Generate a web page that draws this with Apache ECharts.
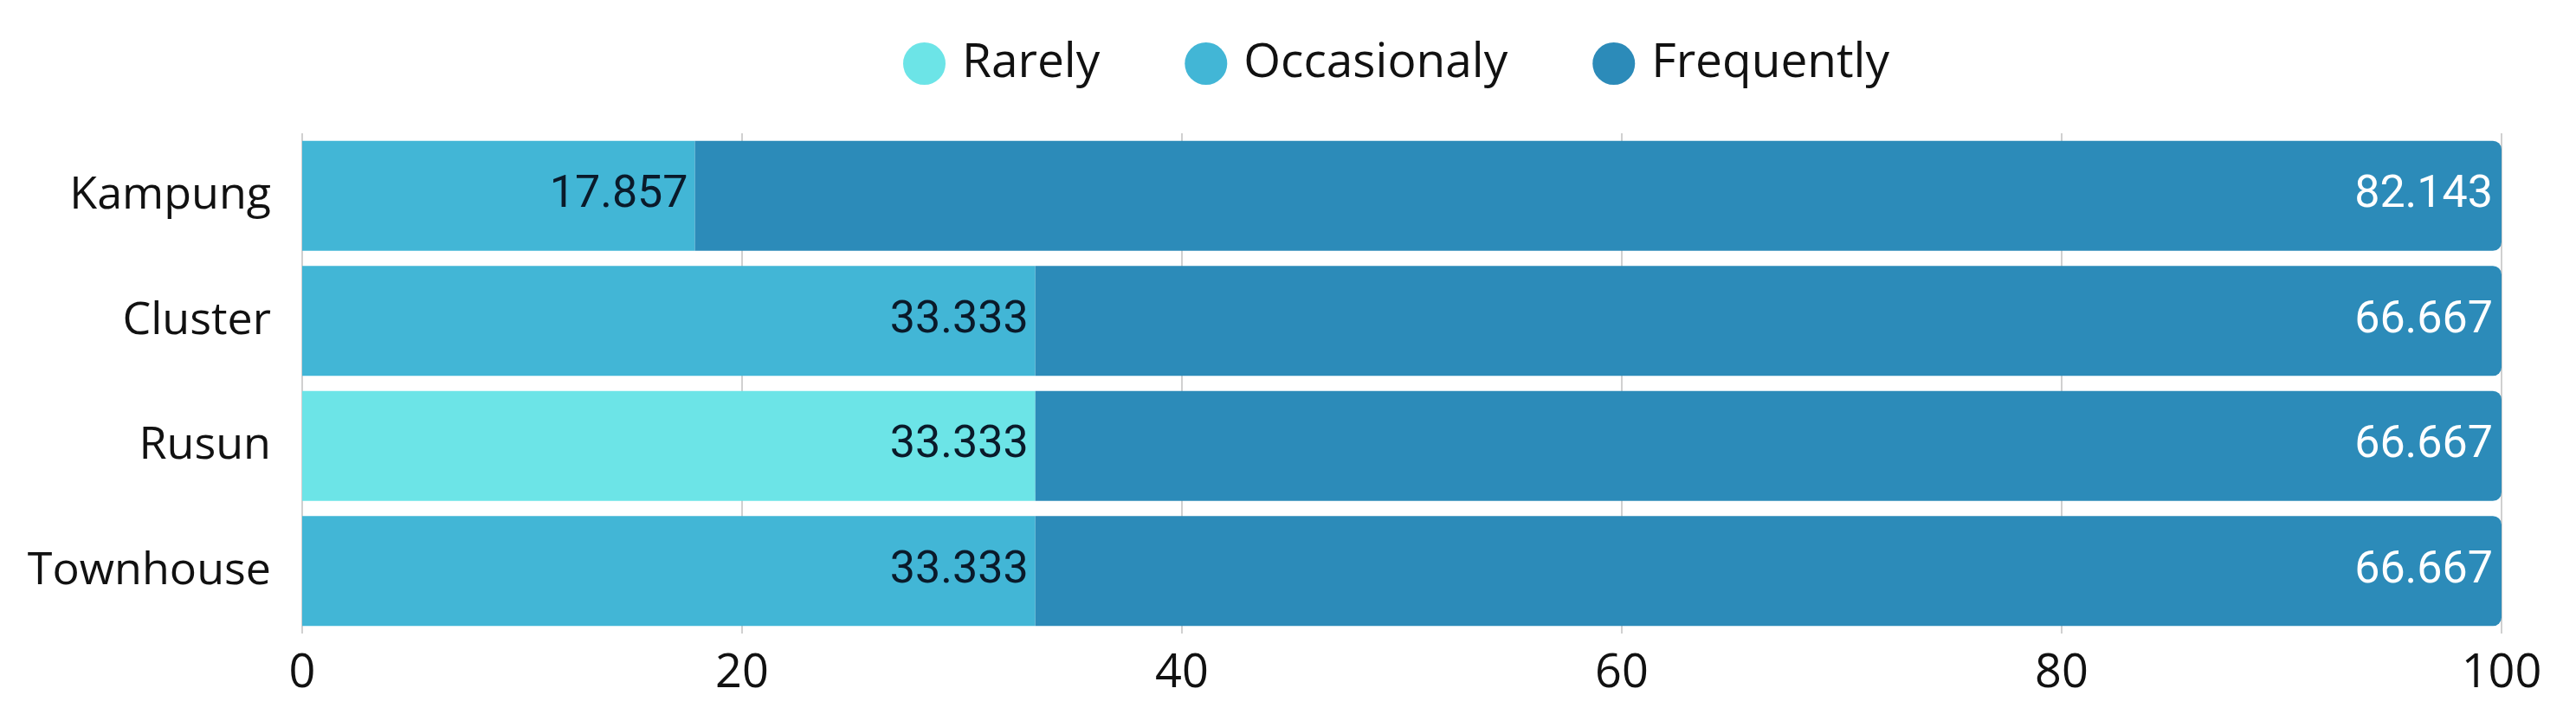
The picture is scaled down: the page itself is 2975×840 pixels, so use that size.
<!DOCTYPE html>
<html>
<head>
<meta charset="utf-8">
<script src="https://cdn.jsdelivr.net/npm/echarts@6/dist/echarts.min.js"></script>
<style>html,body{margin:0;padding:0;background:#fff}#c{width:2975px;height:840px}</style>
</head>
<body>
<div id="c"></div>
<script>
const categories = ['Kampung', 'Cluster', 'Rusun', 'Townhouse'];
const seriesNames = ['Rarely', 'Occasionaly', 'Frequently'];
const rarely = [0, 0, 33.333, 0];
const occasionaly = [17.857, 33.333, 0, 33.333];
const frequently = [82.143, 66.667, 66.667, 66.667];
const xTicks = [0, 20, 40, 60, 80, 100];

const colors = ['#6CE4E7', '#42B6D6', '#2C8BB9'];
const labelFmt = p => (p.value ? String(p.value) : '');

const chart = echarts.init(document.getElementById('c'));
chart.setOption({
  animation: false,
  color: colors,
  legend: {
    data: seriesNames,
    top: 41,
    left: 1038,
    icon: 'circle',
    itemWidth: 49,
    itemHeight: 49,
    itemGap: 98,
    textStyle: { fontFamily: 'Open Sans', fontSize: 55, color: '#111', padding: [0, 0, 0, 14] }
  },
  grid: { left: 349, right: 86, top: 154, bottom: 108, containLabel: false },
  xAxis: {
    type: 'value', min: 0, max: 100, interval: 20,
    axisLine: { show: false }, axisTick: { show: false },
    splitLine: { show: true, lineStyle: { color: '#d0d0d0', width: 2 } },
    axisLabel: {
      margin: 20, fontFamily: 'Open Sans', fontSize: 54, color: '#111',
      formatter: v => xTicks.includes(v) ? String(v) : ''
    }
  },
  yAxis: {
    type: 'category', data: categories, inverse: true,
    axisLine: { show: false }, axisTick: { show: false },
    axisLabel: { margin: 36, fontFamily: 'Open Sans', fontSize: 52, color: '#111' }
  },
  series: [
    { name: 'Rarely', type: 'bar', stack: 's', data: rarely, barCategoryGap: '12%',
      label: { show: true, position: 'insideRight', formatter: labelFmt, fontFamily: 'Roboto', fontSize: 52, color: '#0a1a2a', distance: 8 } },
    { name: 'Occasionaly', type: 'bar', stack: 's', data: occasionaly, barCategoryGap: '12%',
      label: { show: true, position: 'insideRight', formatter: labelFmt, fontFamily: 'Roboto', fontSize: 52, color: '#0a1a2a', distance: 8 } },
    { name: 'Frequently', type: 'bar', stack: 's', data: frequently, barCategoryGap: '12%',
      itemStyle: { borderRadius: [0, 10, 10, 0] },
      label: { show: true, position: 'insideRight', formatter: labelFmt, fontFamily: 'Roboto', fontSize: 52, color: '#ffffff', distance: 10 } }
  ]
});
</script>
</body>
</html>
